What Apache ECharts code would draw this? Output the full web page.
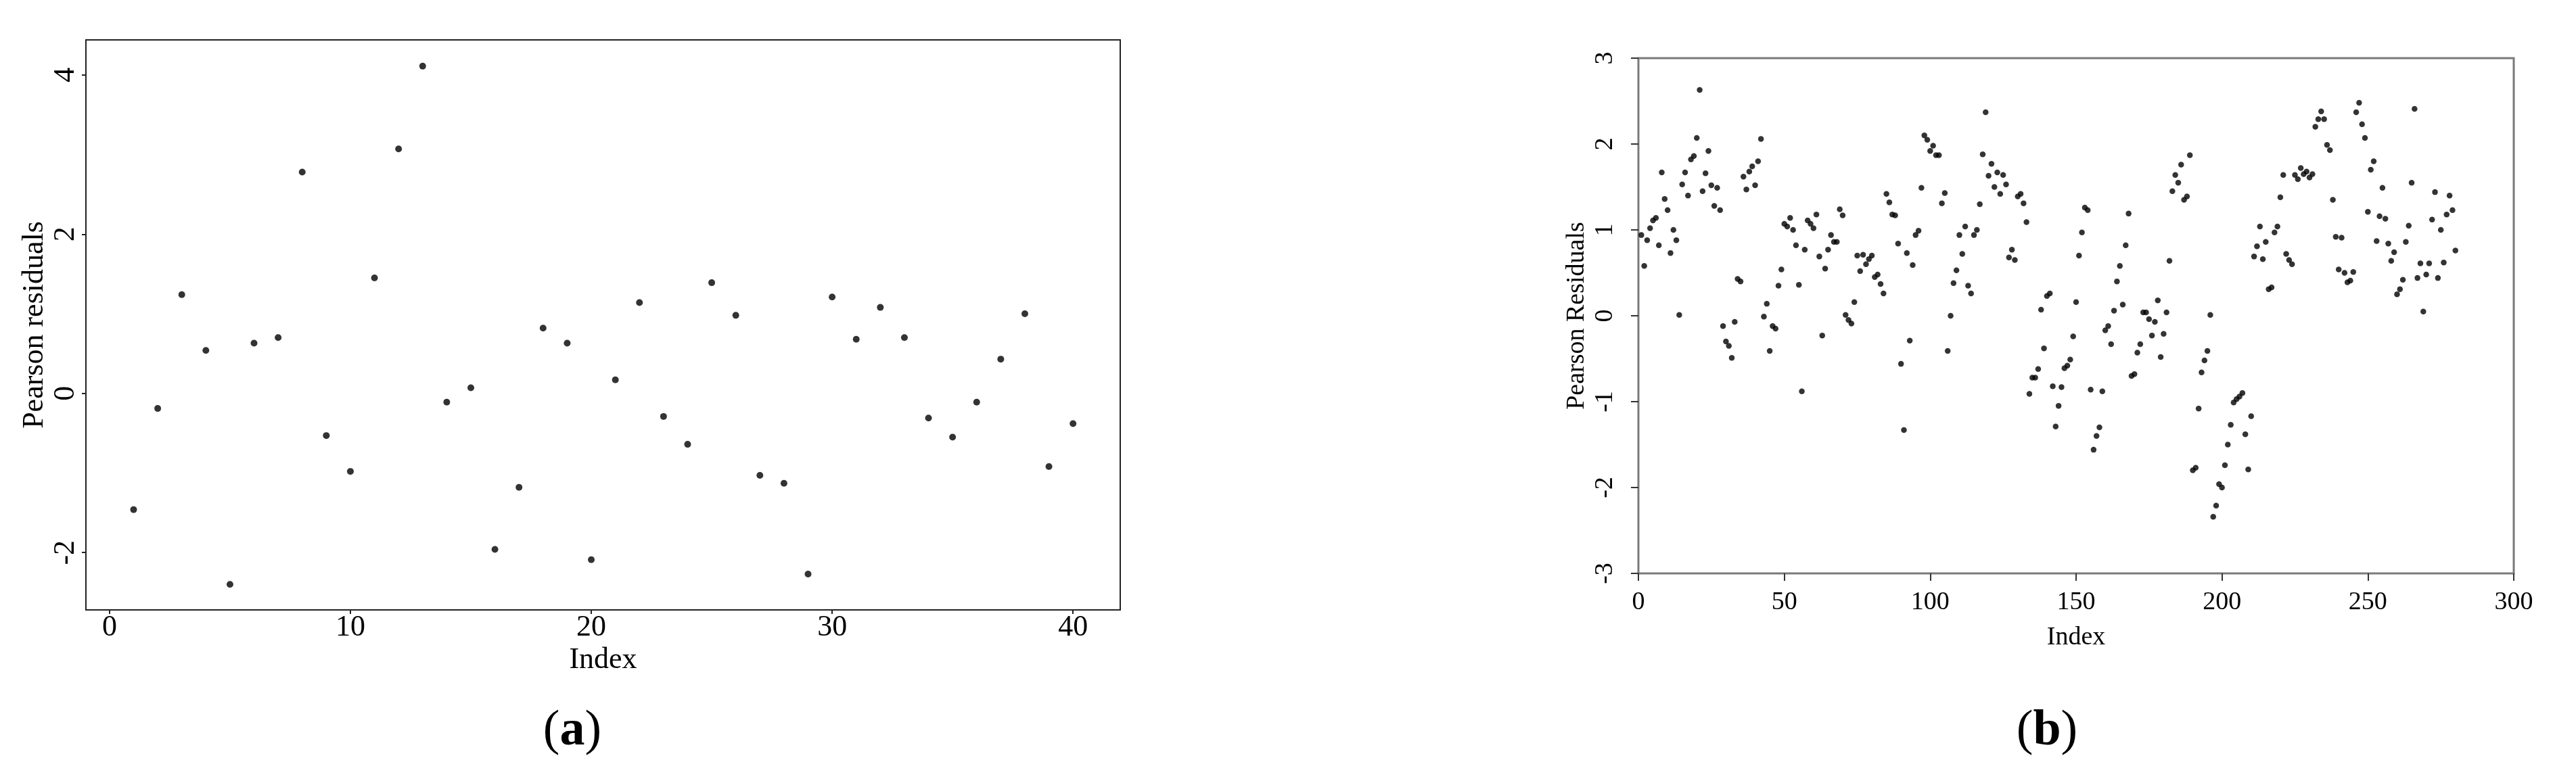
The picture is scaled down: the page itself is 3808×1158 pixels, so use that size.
<!DOCTYPE html>
<html>
<head>
<meta charset="utf-8">
<script src="https://cdn.jsdelivr.net/npm/echarts@6/dist/echarts.min.js"></script>
<style>
  html, body { margin: 0; padding: 0; background: #fff; }
  #chart { width: 3808px; height: 1158px; }
</style>
</head>
<body>
<div id="chart"></div>
<script>
// panel (a): 40 observations
const residA = [-1.46, -0.19, 1.24, 0.54, -2.40, 0.63, 0.70, 2.78, -0.53, -0.98,
  1.45, 3.07, 4.11, -0.11, 0.07, -1.96, -1.18, 0.82, 0.63, -2.09,
  0.17, 1.14, -0.29, -0.64, 1.39, 0.98, -1.03, -1.13, -2.27, 1.21,
  0.68, 1.08, 0.70, -0.31, -0.55, -0.11, 0.43, 1.00, -0.92, -0.38];
const ticksAx = [0, 10, 20, 30, 40];
const ticksAy = [-2, 0, 2, 4];

// panel (b): 280 observations
const residB = [0.94, 0.58, 0.88, 1.02, 1.11, 1.14, 0.82, 1.67, 1.36, 1.23,
  0.73, 1.00, 0.88, 0.01, 1.53, 1.67, 1.40, 1.82, 1.86, 2.07,
  2.63, 1.45, 1.66, 1.92, 1.52, 1.28, 1.49, 1.23, -0.12, -0.30,
  -0.35, -0.49, -0.07, 0.43, 0.40, 1.62, 1.47, 1.68, 1.74, 1.52,
  1.80, 2.06, -0.01, 0.14, -0.41, -0.12, -0.15, 0.35, 0.54, 1.07,
  1.04, 1.14, 1.00, 0.82, 0.36, -0.88, 0.77, 1.11, 1.07, 1.02,
  1.18, 0.69, -0.23, 0.55, 0.77, 0.94, 0.86, 0.86, 1.24, 1.17,
  0.01, -0.05, -0.09, 0.16, 0.70, 0.52, 0.71, 0.60, 0.66, 0.70,
  0.45, 0.48, 0.37, 0.26, 1.42, 1.32, 1.18, 1.17, 0.84, -0.56,
  -1.33, 0.73, -0.29, 0.59, 0.94, 0.99, 1.49, 2.10, 2.05, 1.92,
  1.98, 1.87, 1.87, 1.31, 1.43, -0.41, 0.00, 0.38, 0.53, 0.94,
  0.72, 1.04, 0.35, 0.26, 0.94, 1.00, 1.30, 1.88, 2.37, 1.63,
  1.77, 1.50, 1.67, 1.42, 1.64, 1.53, 0.68, 0.77, 0.65, 1.39,
  1.42, 1.31, 1.09, -0.91, -0.72, -0.72, -0.62, 0.07, -0.38, 0.23,
  0.26, -0.82, -1.29, -1.05, -0.83, -0.61, -0.58, -0.51, -0.24, 0.16,
  0.70, 0.97, 1.26, 1.23, -0.86, -1.56, -1.40, -1.30, -0.88, -0.17,
  -0.12, -0.33, 0.06, 0.40, 0.58, 0.13, 0.82, 1.19, -0.70, -0.68,
  -0.43, -0.33, 0.04, 0.04, -0.04, -0.23, -0.07, 0.18, -0.48, -0.21,
  0.04, 0.64, 1.45, 1.64, 1.55, 1.76, 1.35, 1.39, 1.87, -1.80,
  -1.77, -1.08, -0.66, -0.52, -0.41, 0.01, -2.34, -2.21, -1.96, -2.00,
  -1.74, -1.50, -1.27, -1.01, -0.97, -0.94, -0.90, -1.38, -1.79, -1.17,
  0.69, 0.81, 1.04, 0.66, 0.86, 0.31, 0.33, 0.97, 1.04, 1.38,
  1.64, 0.72, 0.65, 0.60, 1.64, 1.59, 1.72, 1.65, 1.68, 1.61,
  1.65, 2.20, 2.29, 2.38, 2.29, 1.99, 1.93, 1.35, 0.92, 0.54,
  0.91, 0.50, 0.39, 0.41, 0.51, 2.37, 2.48, 2.23, 2.07, 1.21,
  1.70, 1.80, 0.87, 1.16, 1.49, 1.13, 0.84, 0.64, 0.74, 0.25,
  0.31, 0.42, 0.86, 1.05, 1.55, 2.41, 0.44, 0.61, 0.05, 0.48,
  0.61, 1.12, 1.44, 0.44, 1.00, 0.62, 1.18, 1.40, 1.23, 0.76];

const FONT = "Liberation Serif";

const chart = echarts.init(document.getElementById("chart"), null, { renderer: "canvas" });

function pairs(vals) {
  return vals.map((v, i) => [i + 1, v]);
}

chart.setOption({
  animation: false,
  backgroundColor: "#fff",
  textStyle: { fontFamily: FONT, color: "#000" },
  grid: [
    { left: 127, top: 59, width: 1529, height: 843, show: true,
      borderColor: "#222", borderWidth: 2, backgroundColor: "transparent" },
    { left: 2422, top: 86, width: 1294, height: 762, show: true,
      borderColor: "#7a7a7a", borderWidth: 3, backgroundColor: "transparent" }
  ],
  xAxis: [
    {
      gridIndex: 0, type: "value", min: -0.98, max: 41.96, position: "bottom",
      name: "Index", nameLocation: "middle", nameGap: 46,
      nameTextStyle: { fontFamily: FONT, fontSize: 44, color: "#000" },
      axisLine: { show: false, onZero: false },
      axisTick: { show: true, length: 6, customValues: ticksAx,
        lineStyle: { color: "#222", width: 2 } },
      axisLabel: { customValues: ticksAx, margin: 4,
        fontFamily: FONT, fontSize: 44, color: "#000" },
      splitLine: { show: false }
    },
    {
      gridIndex: 1, type: "value", min: 0, max: 300, interval: 50, position: "bottom",
      name: "Index", nameLocation: "middle", nameGap: 76,
      nameTextStyle: { fontFamily: FONT, fontSize: 38, color: "#000" },
      axisLine: { show: false, onZero: false },
      axisTick: { show: true, length: 11, lineStyle: { color: "#333", width: 2 } },
      axisLabel: { margin: 24, fontFamily: FONT, fontSize: 38, color: "#000",
        showMinLabel: true, showMaxLabel: true },
      splitLine: { show: false }
    }
  ],
  yAxis: [
    {
      gridIndex: 0, type: "value", min: -2.72, max: 4.44, position: "left",
      name: "Pearson residuals", nameLocation: "middle", nameGap: 54,
      nameTextStyle: { fontFamily: FONT, fontSize: 44, color: "#000" },
      axisLine: { show: false, onZero: false },
      axisTick: { show: true, length: 6, customValues: ticksAy,
        lineStyle: { color: "#222", width: 2 } },
      axisLabel: { customValues: ticksAy, rotate: 90, margin: 8,
        fontFamily: FONT, fontSize: 44, color: "#000" },
      splitLine: { show: false }
    },
    {
      gridIndex: 1, type: "value", min: -3, max: 3, interval: 1, position: "left",
      name: "Pearson Residuals", nameLocation: "middle", nameGap: 72,
      nameTextStyle: { fontFamily: FONT, fontSize: 38, color: "#000" },
      axisLine: { show: false, onZero: false },
      axisTick: { show: true, length: 11, lineStyle: { color: "#333", width: 2 } },
      axisLabel: { rotate: 90, margin: 30, fontFamily: FONT, fontSize: 38, color: "#000",
        showMinLabel: true, showMaxLabel: true },
      splitLine: { show: false }
    }
  ],
  series: [
    { type: "scatter", xAxisIndex: 0, yAxisIndex: 0, data: pairs(residA),
      symbol: "circle", symbolSize: 10, itemStyle: { color: "#000" }, silent: true },
    { type: "scatter", xAxisIndex: 1, yAxisIndex: 1, data: pairs(residB),
      symbol: "circle", symbolSize: 8.5, itemStyle: { color: "#000" }, silent: true }
  ],
  graphic: [
    { type: "text", x: 846, y: 1082, silent: true,
      style: { text: "{p|(}{b|a}{p|)}", align: "center", verticalAlign: "middle",
        rich: {
          p: { fontFamily: FONT, fontSize: 74, color: "#000" },
          b: { fontFamily: FONT, fontSize: 74, fontWeight: "bold", color: "#000" }
        } } },
    { type: "text", x: 3026, y: 1082, silent: true,
      style: { text: "{p|(}{b|b}{p|)}", align: "center", verticalAlign: "middle",
        rich: {
          p: { fontFamily: FONT, fontSize: 74, color: "#000" },
          b: { fontFamily: FONT, fontSize: 74, fontWeight: "bold", color: "#000" }
        } } }
  ]
});
</script>
</body>
</html>
